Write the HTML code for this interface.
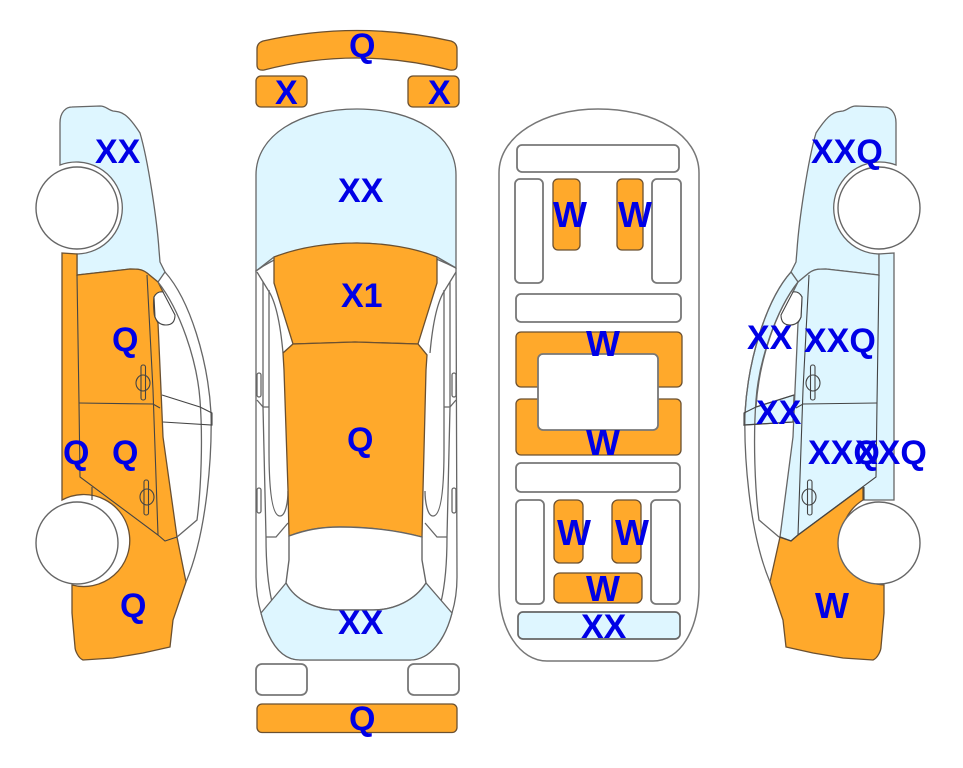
<!DOCTYPE html>
<html><head><meta charset="utf-8"><style>
html,body{margin:0;padding:0;background:#fff;width:963px;height:768px;overflow:hidden}
svg{display:block}
text{font-family:"Liberation Sans",sans-serif;font-weight:700;font-size:34px;fill:#0000e6}
text.v{font-size:36px}
.o{fill:#ffa92b;stroke:#6b5030;stroke-width:1.3}
.p{fill:#def6ff;stroke:#666;stroke-width:1.3}
.w{fill:#fff;stroke:#666;stroke-width:1.4}
.l{fill:none;stroke:#666;stroke-width:1.3}
.t{fill:none;stroke:#444;stroke-width:1.1}
.g{stroke:#777;stroke-width:1.8;fill:#fff}
</style></head><body>
<svg width="963" height="768" viewBox="0 0 963 768" xmlns="http://www.w3.org/2000/svg">
<defs>
<path id="front" d="M60,165 L60,123 C60,112 66,107 72,107 L100,106 C106,106 108,110 113,111 C122,112 127,113 140,133 C148,160 157,220 159,250 L160,262 L165,272 L158,282 L147,273 C142,269 137,269 130,269 L77,275 L77,254 A46,46 0 1 0 60,165 Z"/>
<g id="lines">
<path class="l" d="M165,272 C190,300 208,360 211,413 C212,450 208,530 186,582"/>
<path class="l" d="M158,282 C180,310 197,360 200,400 C203,440 201,490 197,520 L177,537"/>
<path class="t" d="M162,395 L200,407 L212,413 L212,425 L163,422"/>
<path class="t" d="M77,275 L79,403 L80,477 L158,535 L165,541 L177,537"/>
<path class="t" d="M79,403 L153,404 L160,408"/>
<path class="t" d="M147,275 L153,390 L158,535"/>
<path class="t" d="M92,487 L92,500"/>
<path class="t" d="M154,297 Q157,291 163,292 L175,315 Q175,325 166,325 Q158,325 155,317 Z" fill="#fff" style="fill:#fff"/>
<rect class="t" x="141" y="365" width="4.5" height="35" rx="2"/>
<ellipse class="t" cx="143" cy="383" rx="7" ry="8"/>
<rect class="t" x="144" y="480" width="4.5" height="35" rx="2"/>
<ellipse class="t" cx="147" cy="497" rx="7" ry="8"/>
<circle class="w" cx="77" cy="208" r="41"/>
<circle class="w" cx="77" cy="543" r="41"/>
</g>
<g id="side">
<path class="l" d="M257,272 L268,290 C275,300 280,320 283,353"/>
<path class="l" d="M263,282 L263,407 L266,537 C266,560 268,585 272,602"/>
<path class="l" d="M269,290 L269,450 C269,490 272,516 280,516 C286,516 288,500 288,491"/>
<path class="l" d="M257,400 L263,407 L269,407"/>
<path class="l" d="M266,537 L276,537 L288,523"/>
<rect class="l" x="257" y="373" width="4" height="24" rx="2"/>
<rect class="l" x="257" y="488" width="4" height="25" rx="2"/>
</g>
</defs>

<!-- left car -->
<use href="#front" class="p"/>
<path class="o" d="M62,253 L77,254 L77,275 L130,269 C137,269 142,269 147,273 L158,282 L163,292 L154,297 C153,305 154,315 155,317 L158,323 L161,390 L163,437 L177,537 L186,582 L173,620 L170,647 L143,653 L113,658 L83,660 C78,658 75,650 75,647 L72,613 L72,585 A46,46 0 1 0 62,500 Z"/>
<use href="#lines"/>

<!-- right car -->
<g transform="translate(956,0) scale(-1,1)">
<use href="#front" class="p"/>
<path class="p" d="M62,253 L77,254 L77,275 L130,269 C137,269 142,269 147,273 L158,282 L163,292 L154,297 L155,317 L158,323 L161,390 L163,437 L176,537 L165,541 L158,535 L93,487 L93,500 L62,500 Z"/>
<path class="o" d="M93,487 L158,535 L165,541 L176,537 L186,582 L173,620 L170,647 L143,653 L113,658 L83,660 C78,658 75,650 75,647 L72,613 L72,585 A46,46 0 0 0 93,500 Z"/>
<path class="p" d="M165,272 C190,300 208,360 211,413 L212,425 L163,422 L162,395 L200,407 C197,360 180,310 158,282 Z"/>
<use href="#lines"/>
</g>

<!-- top view -->
<path class="o" d="M263,41 Q357,20 451,41 Q457,43 457,49 L457,65 Q457,71 450,70 Q357,46 264,70 Q257,71 257,65 L257,49 Q257,43 263,41 Z"/>
<rect class="o" x="256" y="76" width="51" height="31" rx="5"/>
<rect class="o" x="408" y="76" width="51" height="31" rx="5"/>
<path class="l" d="M256,270 L256,577 C256,590 258,603 261,613 C268,640 280,660 300,660 L410,660 C430,660 445,640 452,613 C455,603 457,590 457,577 L456,268"/>
<path class="p" d="M256,271 L256,175 C256,135 300,109 357,109 C414,109 456,135 456,175 L456,268 C420,250 390,243 357,243 C320,243 285,250 256,271 Z"/>
<use href="#side"/>
<g transform="translate(713,0) scale(-1,1)"><use href="#side"/></g>
<path class="o" d="M274,257 C300,247 330,243 357,243 C385,243 415,248 437,257 L437,283 L418,344 L355,342 L293,344 L274,283 Z"/>
<path class="l" d="M256,271 L274,257 M456,268 L437,257 M418,344 L427,355 M293,344 L283,353"/>
<path class="o" d="M293,344 L355,342 L418,344 L427,355 L426,370 L423,490 L422,537 C395,530 365,527 340,527 C320,527 305,530 289,536 L288,490 L284,370 L283,353 Z"/>
<path class="w" d="M289,536 C305,530 320,527 340,527 C365,527 395,530 422,537 L422,560 L426,583 C415,600 395,610 373,610 L340,610 C315,610 295,600 286,583 L289,560 Z"/>
<path class="p" d="M286,583 L261,613 C268,640 280,660 300,660 L410,660 C430,660 445,640 452,613 L426,583 C415,600 395,610 373,610 L340,610 C315,610 295,600 286,583 Z"/>
<rect class="g" x="256" y="664" width="51" height="31" rx="6"/>
<rect class="g" x="408" y="664" width="51" height="31" rx="6"/>
<rect class="o" x="257" y="704" width="200" height="28.500" rx="5"/>

<!-- underside -->
<path class="l" d="M499,173 C499,135 545,109 598,109 C655,109 699,135 699,173 L699,587 C699,630 680,661 653,661 L547,661 C520,661 499,630 499,587 Z" style="stroke:#777;stroke-width:1.5"/>
<rect class="g" x="517" y="145" width="162" height="27" rx="5"/>
<rect class="g" x="515" y="179" width="28" height="104" rx="5"/>
<rect class="g" x="652" y="179" width="29" height="104" rx="5"/>
<rect class="o" x="553" y="179" width="27" height="71" rx="5"/>
<rect class="o" x="617" y="179" width="26" height="71" rx="5"/>
<rect class="g" x="516" y="294" width="165" height="28" rx="5"/>
<rect class="o" x="516" y="332" width="166" height="55" rx="5"/>
<rect class="o" x="516" y="399" width="165" height="56" rx="5"/>
<rect class="g" x="538" y="354" width="120" height="76" rx="5"/>
<rect class="g" x="516" y="463" width="164" height="29" rx="5"/>
<rect class="g" x="516" y="500" width="28" height="104" rx="5"/>
<rect class="g" x="651" y="500" width="29" height="104" rx="5"/>
<rect class="o" x="554" y="500" width="29" height="63" rx="6"/>
<rect class="o" x="612" y="500" width="29" height="63" rx="6"/>
<rect class="o" x="554" y="573" width="88" height="30" rx="6"/>
<rect class="p" x="518" y="612" width="162" height="27" rx="5" style="stroke-width:1.7"/>

<!-- labels -->
<text x="95" y="163">XX</text>
<text x="112" y="351">Q</text>
<text x="63" y="464">Q</text>
<text x="112" y="464">Q</text>
<text x="120" y="617">Q</text>
<text x="349" y="57">Q</text>
<text x="275" y="104">X</text>
<text x="428" y="104">X</text>
<text x="338" y="202">XX</text>
<text x="341" y="307">X1</text>
<text x="347" y="451">Q</text>
<text x="338" y="634">XX</text>
<text x="349" y="730">Q</text>
<text class="v" x="553" y="227">W</text>
<text class="v" x="618" y="227">W</text>
<text class="v" x="586" y="356">W</text>
<text class="v" x="586" y="455">W</text>
<text class="v" x="557" y="545">W</text>
<text class="v" x="615" y="545">W</text>
<text class="v" x="586" y="601">W</text>
<text x="581" y="638">XX</text>
<text x="811" y="163">XXQ</text>
<text x="747" y="349">XX</text>
<text x="804" y="352">XXQ</text>
<text x="756" y="424">XX</text>
<text x="808" y="464">XXQ</text>
<text x="855" y="464">XXQ</text>
<text class="v" x="815" y="618">W</text>
</svg>
</body></html>
